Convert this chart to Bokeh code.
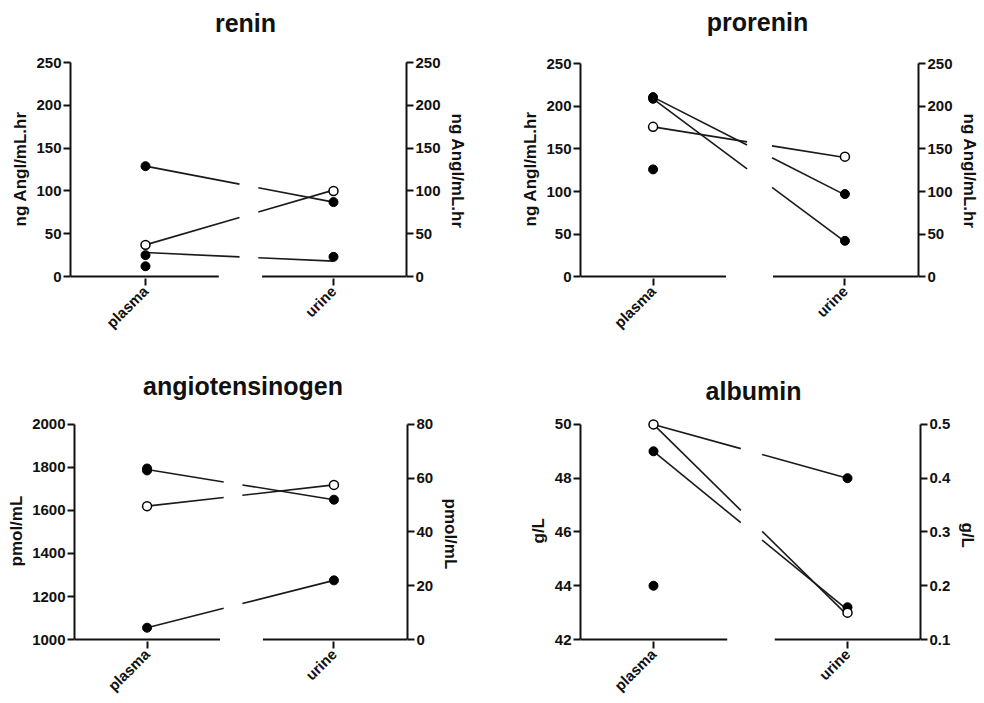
import math
from bokeh.plotting import figure
from bokeh.models import Range1d, LinearAxis, FixedTicker, Label, Title
from bokeh.layouts import column, row
from bokeh.embed import file_html
from bokeh.resources import INLINE

categories = ["plasma", "urine"]

# ---- renin ----
renin_plasma_filled = [129, 25, 12]
renin_plasma_open = [37]
renin_urine_filled = [87, 23]
renin_urine_open = [100]
renin_line_plasma = [129, 37, 28]
renin_line_urine = [87, 101, 18]
renin_left_ticks = [0, 50, 100, 150, 200, 250]
renin_right_ticks = [0, 50, 100, 150, 200, 250]

# ---- prorenin ----
prorenin_plasma_filled = [211, 209, 126]
prorenin_plasma_open = [176]
prorenin_urine_filled = [97, 42]
prorenin_urine_open = [141]
prorenin_line_plasma = [211, 209, 176]
prorenin_line_urine = [96, 41, 140]
prorenin_left_ticks = [0, 50, 100, 150, 200, 250]
prorenin_right_ticks = [0, 50, 100, 150, 200, 250]

# ---- angiotensinogen ----
angio_plasma_filled = [1795, 1786, 1055]
angio_plasma_open = [1620]
angio_urine_filled = [52, 22]
angio_urine_open = [57.5]
angio_line_plasma = [1790, 1620, 1055]
angio_line_urine = [52, 57.5, 22]
angio_left_ticks = [1000, 1200, 1400, 1600, 1800, 2000]
angio_right_ticks = [0, 20, 40, 60, 80]

# ---- albumin ----
alb_plasma_filled = [49, 44]
alb_plasma_open = [50]
alb_urine_filled = [0.40, 0.16]
alb_urine_open = [0.15]
alb_line_plasma = [50, 50, 49]
alb_line_urine = [0.40, 0.145, 0.155]
alb_left_ticks = [42, 44, 46, 48, 50]
alb_right_ticks = [0.1, 0.2, 0.3, 0.4, 0.5]

FONT = "Liberation Sans"
INK = "#111111"


def style_axis(ax, ticks, bounds):
    ax.ticker = FixedTicker(ticks=ticks)
    ax.bounds = bounds
    ax.major_label_text_font = FONT
    ax.major_label_text_font_style = "bold"
    ax.major_label_text_font_size = "15px"
    ax.major_label_text_color = INK
    ax.major_label_standoff = 2
    ax.axis_line_width = 2
    ax.axis_line_color = INK
    ax.major_tick_line_width = 2
    ax.major_tick_line_color = INK
    ax.major_tick_out = 7
    ax.major_tick_in = 0
    ax.minor_tick_line_color = None


def side_title(text, offset):
    return Title(text=text, align="left", offset=offset, standoff=8,
                 text_font=FONT, text_font_style="bold", text_font_size="17px",
                 text_color=INK)


def make_panel(title, ylabel, left_ticks, right_ticks,
               plasma_filled, plasma_open, urine_filled, urine_open,
               line_plasma, line_urine, lay):
    width, height = lay["w"], lay["h"]
    fl, fr = lay["frame_left"], lay["frame_right"]
    pxp, pxu = lay["plasma_px"], lay["urine_px"]
    y_top, y_bot = lay["y_top"], lay["y_bot"]
    border_top, pad_bot = 2, 2
    pad_top = y_top - border_top
    border_bot = height - y_bot - pad_bot

    L0, L1 = left_ticks[0], left_ticks[-1]
    R0, R1 = right_ticks[0], right_ticks[-1]
    upp = (L1 - L0) / (y_bot - y_top)
    rupp = (R1 - R0) / (y_bot - y_top)
    upx = 1.0 / (pxu - pxp)
    x0 = 1 - (pxp - fl) * upx
    x1 = 2 + (fr - pxu) * upx

    p = figure(width=width, height=height,
               x_range=Range1d(x0, x1),
               y_range=Range1d(L0 - pad_bot * upp, L1 + pad_top * upp),
               min_border_left=fl, min_border_right=width - fr,
               min_border_top=border_top, min_border_bottom=border_bot,
               toolbar_location=None, output_backend="svg")
    p.extra_y_ranges = {"right": Range1d(R0 - pad_bot * rupp, R1 + pad_top * rupp)}
    p.outline_line_color = None
    p.xgrid.grid_line_color = None
    p.ygrid.grid_line_color = None
    p.background_fill_color = "white"
    p.border_fill_color = "white"

    # panel title drawn inside the (extended) frame, above the y-axis bounds
    p.add_layout(Label(x=(x0 + x1) / 2 + lay["title_dx"] * upx,
                       y=L1 + (y_top - lay["title_y"]) * upp,
                       text=title, text_align="center", text_baseline="middle",
                       text_font=FONT, text_font_style="bold", text_font_size="25px",
                       text_color=INK))

    style_axis(p.yaxis[0], left_ticks, (L0, L1))
    rax = LinearAxis(y_range_name="right")
    style_axis(rax, right_ticks, (R0, R1))
    p.add_layout(rax, "right")

    # y-axis labels: left one starts from below, right one from above
    frame_bottom = y_bot + pad_bot
    p.add_layout(side_title(ylabel, frame_bottom - lay["ylab_left_start"]), "left")
    p.add_layout(side_title(ylabel, lay["ylab_right_start"] - border_top), "right")

    xa = p.xaxis[0]
    xa.ticker = FixedTicker(ticks=[1, 2])
    xa.major_label_overrides = {1: categories[0], 2: categories[1]}
    xa.major_label_orientation = math.pi / 4
    xa.major_label_text_font = FONT
    xa.major_label_text_font_style = "bold"
    xa.major_label_text_font_size = "15px"
    xa.major_label_text_color = INK
    xa.major_label_standoff = 3
    xa.axis_line_color = None
    xa.major_tick_line_width = 2
    xa.major_tick_line_color = INK
    xa.major_tick_out = 7
    xa.major_tick_in = 0
    xa.minor_tick_line_color = None

    # broken x baseline
    a0, a1 = lay["axis_gap"]
    p.segment(x0=[x0, a1], y0=[L0, L0], x1=[a0, x1], y1=[L0, L0],
              line_color=INK, line_width=2)

    # connecting lines (urine values mapped from right to left scale), with break
    g0, g1 = lay["line_gap"]
    sx0, sy0, sx1, sy1 = [], [], [], []
    for a, b in zip(line_plasma, line_urine):
        b_l = L0 + (b - R0) * (L1 - L0) / (R1 - R0)
        ya = a + (b_l - a) * (g0 - 1)
        yb = a + (b_l - a) * (g1 - 1)
        sx0 += [1, g1]
        sy0 += [a, yb]
        sx1 += [g0, 2]
        sy1 += [ya, b_l]
    p.segment(x0=sx0, y0=sy0, x1=sx1, y1=sy1, line_color="#1a1a1a", line_width=1.6)

    size = 9
    p.scatter(x=[1] * len(plasma_filled), y=plasma_filled, size=size,
              fill_color="black", line_color="black", line_width=1)
    p.scatter(x=[1] * len(plasma_open), y=plasma_open, size=size,
              fill_color="white", line_color="black", line_width=1.5)
    p.scatter(x=[2] * len(urine_filled), y=urine_filled, size=size,
              fill_color="black", line_color="black", line_width=1, y_range_name="right")
    p.scatter(x=[2] * len(urine_open), y=urine_open, size=size,
              fill_color="white", line_color="black", line_width=1.5, y_range_name="right")
    return p


lay_renin = dict(w=492, h=340, frame_left=70, frame_right=406, plasma_px=145, urine_px=333,
                 y_top=63, y_bot=280, title_y=23, title_dx=7,
                 ylab_left_start=230, ylab_right_start=113,
                 axis_gap=(1.39, 1.62), line_gap=(1.50, 1.60))
lay_pro = dict(w=492, h=340, frame_left=88, frame_right=428, plasma_px=161, urine_px=354,
               y_top=65, y_bot=283, title_y=22, title_dx=8,
               ylab_left_start=233, ylab_right_start=113,
               axis_gap=(1.38, 1.625), line_gap=(1.49, 1.62))
lay_angio = dict(w=492, h=363, frame_left=72, frame_right=407, plasma_px=145, urine_px=333,
                 y_top=85, y_bot=303, title_y=46, title_dx=2,
                 ylab_left_start=230, ylab_right_start=158,
                 axis_gap=(1.39, 1.62), line_gap=(1.41, 1.51))
lay_alb = dict(w=492, h=363, frame_left=88, frame_right=428, plasma_px=161, urine_px=355,
               y_top=85, y_bot=303, title_y=51, title_dx=3,
               ylab_left_start=207, ylab_right_start=182,
               axis_gap=(1.38, 1.625), line_gap=(1.45, 1.56))

p1 = make_panel("renin", "ng AngI/mL.hr", renin_left_ticks, renin_right_ticks,
                renin_plasma_filled, renin_plasma_open, renin_urine_filled, renin_urine_open,
                renin_line_plasma, renin_line_urine, lay_renin)
p2 = make_panel("prorenin", "ng AngI/mL.hr", prorenin_left_ticks, prorenin_right_ticks,
                prorenin_plasma_filled, prorenin_plasma_open, prorenin_urine_filled,
                prorenin_urine_open, prorenin_line_plasma, prorenin_line_urine, lay_pro)
p3 = make_panel("angiotensinogen", "pmol/mL", angio_left_ticks, angio_right_ticks,
                angio_plasma_filled, angio_plasma_open, angio_urine_filled, angio_urine_open,
                angio_line_plasma, angio_line_urine, lay_angio)
p4 = make_panel("albumin", "g/L", alb_left_ticks, alb_right_ticks,
                alb_plasma_filled, alb_plasma_open, alb_urine_filled, alb_urine_open,
                alb_line_plasma, alb_line_urine, lay_alb)

layout = column(row(p1, p2, spacing=0), row(p3, p4, spacing=0), spacing=0)
open("out.html", "w").write(file_html(layout, INLINE))
